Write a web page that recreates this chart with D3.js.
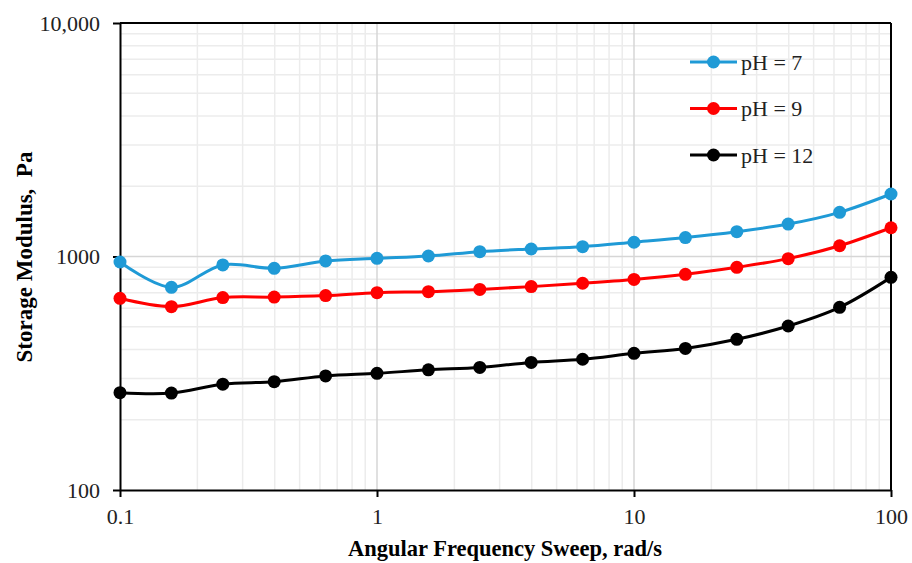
<!DOCTYPE html>
<html>
<head>
<meta charset="utf-8">
<script src="https://cdn.jsdelivr.net/npm/d3@7"></script>
<style>
  body { margin: 0; background: #fff; }
  svg { display: block; font-family: "Liberation Serif", "Times New Roman", serif; }
</style>
</head>
<body>
<div id="chart"></div>
<script>
const freq = [0.1, 0.1585, 0.2512, 0.3981, 0.631, 1, 1.585, 2.512, 3.981, 6.31, 10, 15.85, 25.12, 39.81, 63.1, 100]
const ph7 = [947, 738, 920, 890, 957, 982, 1005, 1049, 1077, 1102, 1151, 1205, 1277, 1377, 1546, 1852]
const ph9 = [662, 610, 667, 670, 680, 700, 707, 723, 743, 768, 798, 839, 899, 979, 1112, 1328]
const ph12 = [261, 260, 284, 291, 308, 316, 327, 335, 352, 363, 385, 404, 442, 504, 606, 814]
const seriesNames = ["pH = 7", "pH = 9", "pH = 12"]
const seriesColors = ["#1f9ad6", "#ff0000", "#000000"]
const xTickValues = [0.1, 1, 10, 100]
const yTickValues = [100, 1000, 10000]
const yTickLabels = ["100", "1000", "10,000"]

const width = 912, height = 563
const margin = { top: 23, right: 21, bottom: 73, left: 120 }

const svg = d3.select("#chart").append("svg")
    .attr("width", width)
    .attr("height", height)

const x = d3.scaleLog().domain([0.1, 100]).range([margin.left, width - margin.right])
const y = d3.scaleLog().domain([100, 10000]).range([height - margin.bottom, margin.top])

// minor + major grid
const xMinor = []
const yMinor = []
for (let e = -1; e < 2; e++) for (let m = 2; m <= 9; m++) xMinor.push(m * Math.pow(10, e))
for (let e = 2; e < 4; e++) for (let m = 2; m <= 9; m++) yMinor.push(m * Math.pow(10, e))

const grid = svg.append("g")
grid.selectAll(".xm").data(xMinor).enter().append("line")
    .attr("x1", d => x(d)).attr("x2", d => x(d))
    .attr("y1", y.range()[0]).attr("y2", y.range()[1])
    .attr("stroke", "#ececec").attr("stroke-width", 1.5)
grid.selectAll(".ym").data(yMinor).enter().append("line")
    .attr("x1", x.range()[0]).attr("x2", x.range()[1])
    .attr("y1", d => y(d)).attr("y2", d => y(d))
    .attr("stroke", "#ececec").attr("stroke-width", 1.5)
grid.selectAll(".xM").data([1, 10]).enter().append("line")
    .attr("x1", d => x(d)).attr("x2", d => x(d))
    .attr("y1", y.range()[0]).attr("y2", y.range()[1])
    .attr("stroke", "#d6d6d6").attr("stroke-width", 1.5)
grid.selectAll(".yM").data([1000]).enter().append("line")
    .attr("x1", x.range()[0]).attr("x2", x.range()[1])
    .attr("y1", d => y(d)).attr("y2", d => y(d))
    .attr("stroke", "#d6d6d6").attr("stroke-width", 1.5)

// axes
const xAxis = svg.append("g")
    .attr("transform", "translate(0," + y.range()[0] + ")")
    .call(d3.axisBottom(x).tickValues(xTickValues).tickFormat(d => d).tickSize(7).tickSizeOuter(0))
const yAxis = svg.append("g")
    .attr("transform", "translate(" + x.range()[0] + ",0)")
    .call(d3.axisLeft(y).tickValues(yTickValues).tickFormat((d, i) => yTickLabels[i]).tickSize(7).tickSizeOuter(0))
svg.append("line")
    .attr("x1", x.range()[1]).attr("x2", x.range()[1])
    .attr("y1", y.range()[0]).attr("y2", y.range()[1])
    .attr("stroke", "#000").attr("stroke-width", 2)
svg.append("line")
    .attr("x1", x.range()[0]).attr("x2", x.range()[1])
    .attr("y1", y.range()[1]).attr("y2", y.range()[1])
    .attr("stroke", "#000").attr("stroke-width", 2)

for (const ax of [xAxis, yAxis]) {
    ax.select(".domain").attr("stroke-width", 2)
    ax.selectAll(".tick line").attr("stroke-width", 2)
    ax.selectAll("text")
        .attr("font-family", "Liberation Serif, Times New Roman, serif")
        .attr("font-size", 22)
        .attr("fill", "#222")
}
xAxis.selectAll("text").attr("dy", "1.1em")
yAxis.selectAll("text").attr("x", -20).attr("dy", "0.33em")

// axis titles
svg.append("text")
    .attr("x", 505).attr("y", 556)
    .attr("text-anchor", "middle")
    .attr("font-size", 22.5).attr("font-weight", "bold")
    .text("Angular Frequency Sweep, rad/s")
svg.append("text")
    .attr("transform", "translate(32,257) rotate(-90)")
    .attr("text-anchor", "middle")
    .attr("font-size", 23).attr("font-weight", "bold")
    .attr("xml:space", "preserve")
    .text("Storage Modulus,  Pa")

// series
const allSeries = [ph7, ph9, ph12]
const line = d3.line()
    .x((d, i) => x(freq[i]))
    .y(d => y(d))
    .curve(d3.curveCatmullRom.alpha(0.5))

allSeries.forEach((vals, s) => {
    const g = svg.append("g")
    g.append("path")
        .datum(vals)
        .attr("d", line)
        .attr("fill", "none")
        .attr("stroke", seriesColors[s])
        .attr("stroke-width", 3)
    g.selectAll("circle")
        .data(vals)
        .enter()
        .append("circle")
        .attr("cx", (d, i) => x(freq[i]))
        .attr("cy", d => y(d))
        .attr("r", 6.5)
        .attr("fill", seriesColors[s])
})

// legend
const legend = svg.append("g").attr("transform", "translate(690,62)")
seriesNames.forEach((name, s) => {
    const row = legend.append("g").attr("transform", "translate(0," + (s * 46.5) + ")")
    row.append("line")
        .attr("x1", 0).attr("x2", 47)
        .attr("stroke", seriesColors[s]).attr("stroke-width", 3)
    row.append("circle")
        .attr("cx", 23.5).attr("r", 6.5)
        .attr("fill", seriesColors[s])
    row.append("text")
        .attr("x", 51).attr("dy", "0.35em")
        .attr("font-size", 22).attr("fill", "#222")
        .text(name)
})
</script>
</body>
</html>
